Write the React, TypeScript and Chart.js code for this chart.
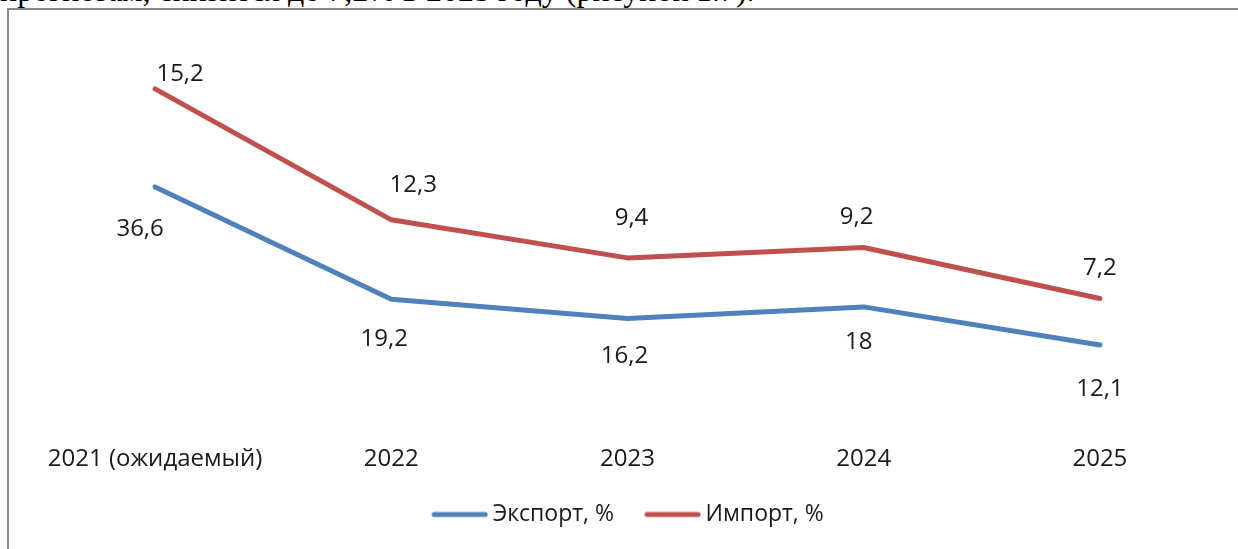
import React, { useEffect, useRef } from "react";
import { Chart, registerables } from "chart.js";

Chart.register(...registerables);

// ---- data ----
const categories = ["2021 (ожидаемый)", "2022", "2023", "2024", "2025"];
const exportValues = [36.6, 19.2, 16.2, 18, 12.1];
const importValues = [15.2, 12.3, 9.4, 9.2, 7.2];
const seriesNames = ["Экспорт, %", "Импорт, %"];
const captionText = "прогнозам, снизится до 7,2% в 2025 году (рисунок 1.7).";

// ---- styles ----
const FONT = '"Open Sans", "Noto Sans", sans-serif';
const FONT_SIZE = 24;
const LEGEND_FONT_SIZE = 23;
const TEXT_COLOR = "#1a1a1a";
const EXPORT_COLOR = "#4F81BD";
const IMPORT_COLOR = "#C0504D";
// data-label offsets in px relative to the point (styling only)
const exportLabelOffsets = [[-15, 42], [-7, 40], [-3, 38], [-5, 35], [0, 44]];
const importLabelOffsets = [[25, -15], [22, -35], [4, -40], [-7, -30], [0, -30]];

const fmt = (v: number) => String(v).replace(".", ",");

const valueLabelPlugin = {
  id: "valueLabels",
  afterDatasetsDraw(chart: any) {
    const ctx = chart.ctx;
    ctx.save();
    ctx.font = `${FONT_SIZE}px ${FONT}`;
    ctx.fillStyle = TEXT_COLOR;
    ctx.textAlign = "center";
    ctx.textBaseline = "middle";
    const raws = [exportValues, importValues];
    const offs = [exportLabelOffsets, importLabelOffsets];
    chart.data.datasets.forEach((_: any, di: number) => {
      const meta = chart.getDatasetMeta(di);
      meta.data.forEach((pt: any, i: number) => {
        ctx.fillText(fmt(raws[di][i]), pt.x + offs[di][i][0], pt.y + offs[di][i][1]);
      });
    });
    ctx.restore();
  },
};

// legend swatch: a 56px round-capped line drawn inside an image, so the gap
// to the legend text can be tighter than Chart.js' default
const makeSwatch = (color: string) => {
  const c = document.createElement("canvas");
  c.width = 64;
  c.height = 8;
  const g = c.getContext("2d")!;
  g.strokeStyle = color;
  g.lineWidth = 5;
  g.lineCap = "round";
  g.beginPath();
  g.moveTo(10, 4);
  g.lineTo(61, 4);
  g.stroke();
  return c;
};

export default function App() {
  const canvasRef = useRef<HTMLCanvasElement | null>(null);

  useEffect(() => {
    document.body.style.margin = "0";
    const canvas = canvasRef.current;
    if (!canvas) return;
    const swatches = [makeSwatch(EXPORT_COLOR), makeSwatch(IMPORT_COLOR)];
    const chart = new Chart(canvas, {
      type: "line",
      data: {
        labels: categories,
        datasets: [
          {
            label: seriesNames[0],
            data: exportValues,
            borderColor: EXPORT_COLOR,
            backgroundColor: EXPORT_COLOR,
            borderWidth: 5,
            borderCapStyle: "round",
            borderJoinStyle: "round",
            pointRadius: 0,
            pointHoverRadius: 0,
            fill: false,
            tension: 0,
          },
          {
            label: seriesNames[1],
            data: importValues,
            borderColor: IMPORT_COLOR,
            backgroundColor: IMPORT_COLOR,
            borderWidth: 5,
            borderCapStyle: "round",
            borderJoinStyle: "round",
            pointRadius: 0,
            pointHoverRadius: 0,
            fill: false,
            tension: 0,
          },
        ],
      },
      options: {
        animation: false,
        responsive: false,
        maintainAspectRatio: false,
        layout: { padding: { left: 37, right: 20, top: 36, bottom: 13 } },
        scales: {
          x: {
            offset: true,
            grid: { display: false, drawTicks: false },
            border: { display: false },
            afterFit: (scale: any) => {
              scale.height = 50;
            },
            ticks: {
              padding: 22,
              maxRotation: 0,
              autoSkip: false,
              color: TEXT_COLOR,
              font: { family: FONT, size: FONT_SIZE },
            },
          },
          y: {
            stacked: true,
            display: false,
            min: 0,
            max: 60,
          },
        },
        plugins: {
          legend: {
            position: "bottom",
            labels: {
              usePointStyle: true,
              pointStyleWidth: 50,
              padding: 30,
              color: TEXT_COLOR,
              font: { family: FONT, size: LEGEND_FONT_SIZE },
              generateLabels: (ch: any) => {
                const items = Chart.defaults.plugins.legend.labels.generateLabels(ch);
                return items.map((it: any, i: number) => ({ ...it, pointStyle: swatches[i] }));
              },
            },
          },
          tooltip: { enabled: false },
        },
      },
      plugins: [valueLabelPlugin],
    } as any);
    return () => chart.destroy();
  }, []);

  return (
    <div
      style={{
        position: "relative",
        width: 1238,
        height: 549,
        overflow: "hidden",
        background: "#fff",
      }}
    >
      <div
        style={{
          position: "absolute",
          left: 0,
          top: -26,
          whiteSpace: "nowrap",
          fontFamily: '"Liberation Serif", "Times New Roman", serif',
          fontSize: 32,
          lineHeight: "32px",
          color: "#000",
        }}
      >
        {captionText}
      </div>
      <div
        style={{
          position: "absolute",
          left: 7,
          top: 8,
          width: 1300,
          height: 600,
          borderLeft: "2px solid #8a8a8a",
          borderTop: "2px solid #8a8a8a",
        }}
      />
      <canvas
        ref={canvasRef}
        width={1238}
        height={549}
        style={{ position: "absolute", left: 0, top: 0, width: 1238, height: 549 }}
      />
    </div>
  );
}
